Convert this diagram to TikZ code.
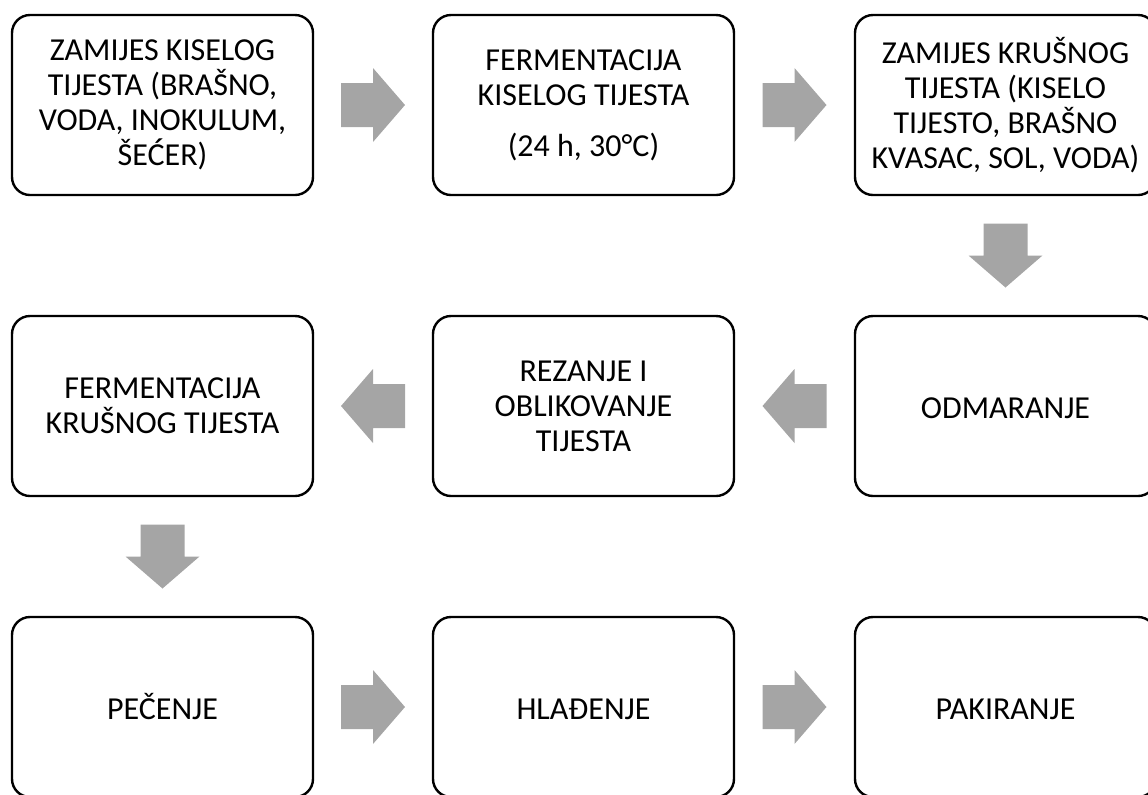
\documentclass[tikz,border=0pt]{standalone}
\usepackage{fontspec}
\setmainfont{Carlito}
\usetikzlibrary{calc}
\definecolor{arrowgray}{HTML}{A5A5A5}

\begin{document}
\begin{tikzpicture}[x=0.5pt,y=-0.5pt,
  box/.style={draw, line width=1.2pt, rounded corners=9pt, minimum width=150.5pt,
    minimum height=90pt, align=center, font=\fontsize{16pt}{17.5pt}\selectfont},
  pics/blockarrow/.style={code={
    \fill[arrowgray] (-32,-22) -- (0,-22) -- (0,-37) -- (32,0) -- (0,37) -- (0,22) -- (-32,22) -- cycle;}}]
  \useasboundingbox (0,0) rectangle (1148,794);
  \clip (0,0) rectangle (1148,794);

  \node[box] (mixA) at (162.5,105) {ZAMIJES KISELOG\\TIJESTA (BRAŠNO,\\VODA, INOKULUM,\\ŠEĆER)};
  \node[box] (fermA) at (583.5,105) {FERMENTACIJA\\KISELOG TIJESTA\\[8pt](24 h, 30°C)};
  \node[box] (mixB) at (1005.5,105) {ZAMIJES KRUŠNOG\\TIJESTA (KISELO\\TIJESTO, BRAŠNO\\KVASAC, SOL, VODA)};

  \node[box] (fermB) at (162.5,406) {FERMENTACIJA\\KRUŠNOG TIJESTA};
  \node[box] (cut) at (583.5,406) {REZANJE I\\OBLIKOVANJE\\TIJESTA};
  \node[box] (rest) at (1005.5,406) {\vphantom{Č}ODMARANJE};

  \node[box] (bake) at (162.5,707) {PEČENJE};
  \node[box] (cool) at (583.5,707) {\vphantom{Č}HLAĐENJE};
  \node[box] (pack) at (1005.5,707) {\vphantom{Č}PAKIRANJE};

  \pic at ($(mixA)!0.5!(fermA)$) {blockarrow};
  \pic at ($(fermA)!0.5!(mixB)$) {blockarrow};
  \pic[rotate=-90] at ($(mixB)!0.5!(rest)$) {blockarrow};
  \pic[rotate=180] at ($(rest)!0.5!(cut)$) {blockarrow};
  \pic[rotate=180] at ($(cut)!0.5!(fermB)$) {blockarrow};
  \pic[rotate=-90] at ($(fermB)!0.5!(bake)$) {blockarrow};
  \pic at ($(bake)!0.5!(cool)$) {blockarrow};
  \pic at ($(cool)!0.5!(pack)$) {blockarrow};
\end{tikzpicture}
\end{document}
